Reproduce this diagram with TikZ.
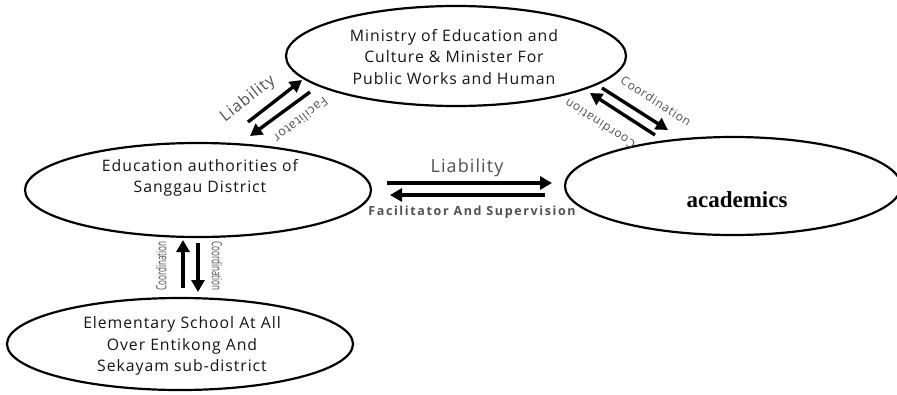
\documentclass[tikz,border=0pt]{standalone}
\usepackage{fontspec}
\setmainfont[LetterSpace=6]{Open Sans}
\newfontfamily\widefont[LetterSpace=13]{Open Sans}
\newfontfamily\plainfont{Open Sans}
\newfontfamily\seriffont{Liberation Serif}
\usetikzlibrary{arrows.meta,shapes.geometric}
\definecolor{txtcol}{RGB}{20,20,20}
\definecolor{lblgray}{RGB}{80,80,80}

\begin{document}
\begin{tikzpicture}[x=1pt,y=-1pt,
  office/.style={draw,ellipse,line width=2.2pt,inner sep=0pt},
  txt/.style={align=center,text=txtcol,font=\fontsize{15.8}{21.5}\selectfont},
  arr/.style={line width=3.4pt,-{Triangle[width=13pt,length=12pt]}},
  lbl/.style={text=lblgray,inner sep=1pt}]
\useasboundingbox (0,0) rectangle (897,394);
% the four offices
\node[office,minimum width=340,minimum height=100] (min) at (456,56) {};
\node[office,minimum width=346,minimum height=94] (edu) at (198,190) {};
\node[office,minimum width=336,minimum height=98] (aca) at (733,186) {};
\node[office,minimum width=346,minimum height=92] (sch) at (180,344) {};
\node[txt] (mintxt) at (454,57) {Ministry of Education and\\Culture \& Minister For\\Public Works and Human};
\node[txt] (edutxt) at (200,178) {Education authorities of\\Sanggau District};
\node[txt] (schtxt) at (182,346) {Elementary School At All\\Over Entikong And\\Sekayam sub-district};
\node[font=\seriffont\bfseries\fontsize{23}{28}\selectfont] (acatxt) at (737,200) {academics};
% arrow ends
\coordinate (le1) at (248,122); \coordinate (le2) at (302,80);
\coordinate (le3) at (310,92);  \coordinate (le4) at (250,136);
\coordinate (ri1) at (602,88);  \coordinate (ri2) at (668,130);
\coordinate (ri3) at (655,135); \coordinate (ri4) at (590,93);
\coordinate (mi1) at (387,183); \coordinate (mi2) at (552,183);
\coordinate (mi3) at (545,195); \coordinate (mi4) at (390,195);
\coordinate (lo1) at (183,288); \coordinate (lo2) at (183,240);
\coordinate (lo3) at (198,243); \coordinate (lo4) at (198,292);
\draw[arr] (le1) -- (le2);
\draw[arr] (le3) -- (le4);
\draw[arr] (ri1) -- (ri2);
\draw[arr] (ri3) -- (ri4);
\draw[arr] (mi1) -- (mi2);
\draw[arr] (mi3) -- (mi4);
\draw[arr] (lo1) -- (lo2);
\draw[arr] (lo3) -- (lo4);
% labels on the arrows
\node[lbl,font=\fontsize{16}{18}\selectfont,rotate=38] (lbl1) at (248,99) {Liability};
\node[lbl,font=\fontsize{12.5}{14}\selectfont,rotate=218] (lbl2) at (301,120) {Facilitator};
\node[lbl,font=\fontsize{12}{14}\selectfont,rotate=-33] (lbl3) at (656,101) {Coordination};
\node[lbl,font=\fontsize{12}{14}\selectfont,rotate=147] (lbl4) at (600,124) {Coordination};
\node[lbl,font=\fontsize{18}{20}\selectfont] (lbl5) at (467,168) {Liability};
\node[lbl,font=\widefont\bfseries\fontsize{12.5}{14}\selectfont] (lbl6) at (472,212) {Facilitator And Supervision};
\node[lbl,font=\plainfont\fontsize{14}{16}\selectfont,rotate=90,xscale=0.58] (lbl7) at (161,266) {Coordination};
\node[lbl,font=\plainfont\fontsize{14}{16}\selectfont,rotate=-90,xscale=0.58] (lbl8) at (217,266) {Coordination};
\end{tikzpicture}
\end{document}
